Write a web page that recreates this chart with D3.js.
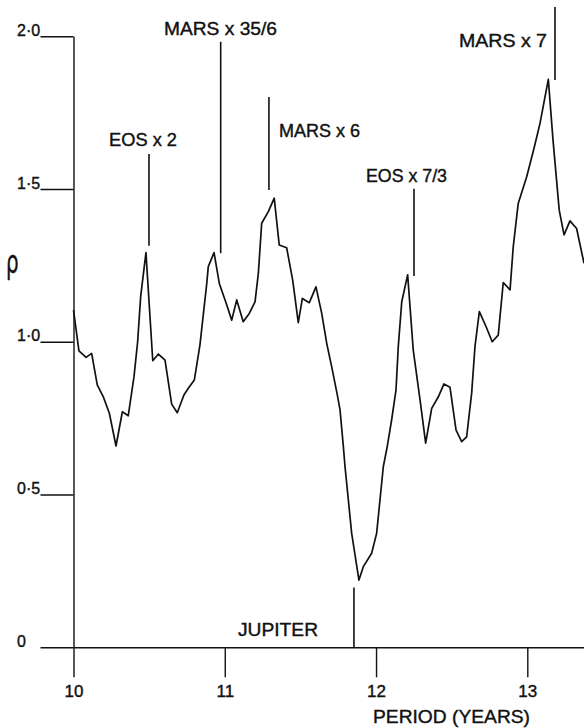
<!DOCTYPE html>
<html>
<head>
<meta charset="utf-8">
<script src="https://cdn.jsdelivr.net/npm/d3@7"></script>
<style>
  html, body { margin: 0; padding: 0; background: #fff; }
  svg { display: block; }
  text { font-family: "Liberation Sans", Arial, sans-serif; fill: #111; stroke: #111; stroke-width: 0.4px; }
</style>
</head>
<body>
<svg id="chart" width="584" height="728"></svg>
<script>
// Correlation coefficient ρ against trial period (years)
const periods = [
  10.000, 10.036, 10.083, 10.120, 10.157, 10.197, 10.237, 10.281, 10.323, 10.362,
  10.400, 10.424, 10.444, 10.479, 10.524, 10.561, 10.605, 10.649, 10.686, 10.730,
  10.759, 10.799, 10.836, 10.881, 10.891, 10.929, 10.964, 11.006, 11.046, 11.079,
  11.122, 11.162, 11.200, 11.222, 11.244, 11.288, 11.327, 11.360, 11.409, 11.449,
  11.486, 11.513, 11.559, 11.603, 11.641, 11.674, 11.707, 11.744, 11.762, 11.784,
  11.795, 11.839, 11.887, 11.916, 11.971, 12.004, 12.048, 12.074, 12.103, 12.132,
  12.147, 12.170, 12.209, 12.246, 12.291, 12.328, 12.368, 12.412, 12.449, 12.489,
  12.529, 12.566, 12.599, 12.632, 12.654, 12.683, 12.727, 12.768, 12.808, 12.841,
  12.886, 12.907, 12.940, 12.996, 13.044, 13.084, 13.139, 13.170, 13.211, 13.243,
  13.282, 13.326, 13.375
];
const rho = [
  1.104, 0.970, 0.949, 0.962, 0.859, 0.820, 0.766, 0.659, 0.771, 0.758,
  0.886, 1.000, 1.148, 1.292, 0.938, 0.960, 0.940, 0.796, 0.768, 0.826,
  0.848, 0.875, 0.990, 1.191, 1.246, 1.292, 1.191, 1.131, 1.071, 1.137,
  1.066, 1.093, 1.131, 1.224, 1.388, 1.426, 1.470, 1.317, 1.308, 1.202,
  1.063, 1.142, 1.128, 1.180, 1.093, 0.995, 0.918, 0.826, 0.777, 0.657,
  0.591, 0.373, 0.220, 0.264, 0.308, 0.373, 0.591, 0.657, 0.744, 0.842,
  0.984, 1.131, 1.219, 0.973, 0.810, 0.668, 0.782, 0.820, 0.862, 0.851,
  0.711, 0.673, 0.689, 0.831, 0.984, 1.099, 1.050, 1.000, 1.022, 1.194,
  1.170, 1.311, 1.453, 1.540, 1.633, 1.715, 1.859, 1.660, 1.431, 1.350,
  1.396, 1.371, 1.257
];

// Axis ticks
const xTicks = [10, 11, 12, 13];
const xTickLabels = ["10", "11", "12", "13"];
const yTicks = [0, 0.5, 1.0, 1.5, 2.0];
const yTickLabels = ["0", "0·5", "1·0", "1·5", "2·0"];

// Commensurability markers: label, period, ρ span of the marker line
const markerLabels = ["EOS x 2", "MARS x 35/6", "MARS x 6", "EOS x 7/3", "MARS x 7", "JUPITER"];
const markerPeriods = [10.499, 10.973, 11.292, 12.251, 13.183, 11.854];
const markerRhoLow = [1.314, 1.290, 1.497, 1.215, 1.857, 0.0];
const markerRhoHigh = [1.615, 1.982, 1.801, 1.501, 2.096, 0.196];

const svg = d3.select("#chart");
const ink = "#111";

const x = d3.scaleLinear().domain([10, 13]).range([73.5, 527.3]);
const y = d3.scaleLinear().domain([0, 2]).range([647.3, 36.3]);
const xMax = x.invert(584);

// Y axis: ticks run left of the axis, labels sit above the tick ends
const yAxis = d3.axisLeft(y).tickValues(yTicks).tickSize(33).tickSizeOuter(0)
  .tickFormat((d, i) => yTickLabels[i]);
const gy = svg.append("g").attr("transform", `translate(${x(10)},0)`).call(yAxis);
gy.select(".domain").attr("stroke", ink).attr("stroke-width", 1.4);
gy.selectAll(".tick line").attr("stroke", ink).attr("stroke-width", 1.4);
gy.selectAll(".tick text")
  .attr("x", 17 - x(10)).attr("dy", 0).attr("y", -1)
  .attr("text-anchor", "start")
  .style("font-size", "16px");

// X axis: ticks hang below the axis
const xAxis = d3.axisBottom(x.copy().domain([10, xMax]).range([x(10), 584]))
  .tickValues(xTicks).tickSize(30).tickSizeOuter(0)
  .tickFormat((d, i) => xTickLabels[i]);
const gx = svg.append("g").attr("transform", `translate(0,${y(0)})`).call(xAxis);
gx.select(".domain").attr("stroke", ink).attr("stroke-width", 1.4);
gx.selectAll(".tick line").attr("stroke", ink).attr("stroke-width", 1.4);
gx.selectAll(".tick text")
  .attr("y", 50).attr("dy", 0)
  .style("font-size", "17px");

svg.selectAll(".tick text")
  .style("font-family", "'Liberation Sans', Arial, sans-serif")
  .attr("fill", ink).attr("stroke", ink).attr("stroke-width", 0.4);
svg.selectAll(".domain").attr("fill", "none");

// Curve
const pts = periods.map((p, i) => [p, rho[i]]);
const line = d3.line().x(d => x(d[0])).y(d => y(d[1]));
svg.append("path")
  .datum(pts)
  .attr("d", line)
  .attr("fill", "none")
  .attr("stroke", ink)
  .attr("stroke-width", 1.7)
  .attr("stroke-linejoin", "round");

// Marker lines
svg.append("g").selectAll("line")
  .data(markerPeriods)
  .join("line")
  .attr("x1", d => x(d)).attr("x2", d => x(d))
  .attr("y1", (d, i) => y(markerRhoLow[i]))
  .attr("y2", (d, i) => y(markerRhoHigh[i]))
  .attr("stroke", ink)
  .attr("stroke-width", 1.6);

// Marker labels (left edge, baseline, width)
const labelPos = [
  [109, 145.7, 68],
  [164, 35, 113],
  [279, 136.7, 81],
  [366, 181.7, 81],
  [459, 47, 88],
  [238, 636, 80]
];
svg.append("g").selectAll("text")
  .data(markerLabels)
  .join("text")
  .attr("x", (d, i) => labelPos[i][0])
  .attr("y", (d, i) => labelPos[i][1])
  .attr("textLength", (d, i) => labelPos[i][2])
  .attr("lengthAdjust", "spacingAndGlyphs")
  .style("font-size", "18px")
  .text(d => d);

// Axis titles
svg.append("text")
  .attr("x", 373).attr("y", 723)
  .attr("textLength", 157)
  .attr("lengthAdjust", "spacingAndGlyphs")
  .style("font-size", "19px")
  .text("PERIOD (YEARS)");

svg.append("text")
  .attr("transform", "translate(6,273) scale(0.62,1)")
  .style("font-size", "32px")
  .style("font-family", "'DejaVu Sans', sans-serif")
  .text("ρ");
</script>
</body>
</html>
